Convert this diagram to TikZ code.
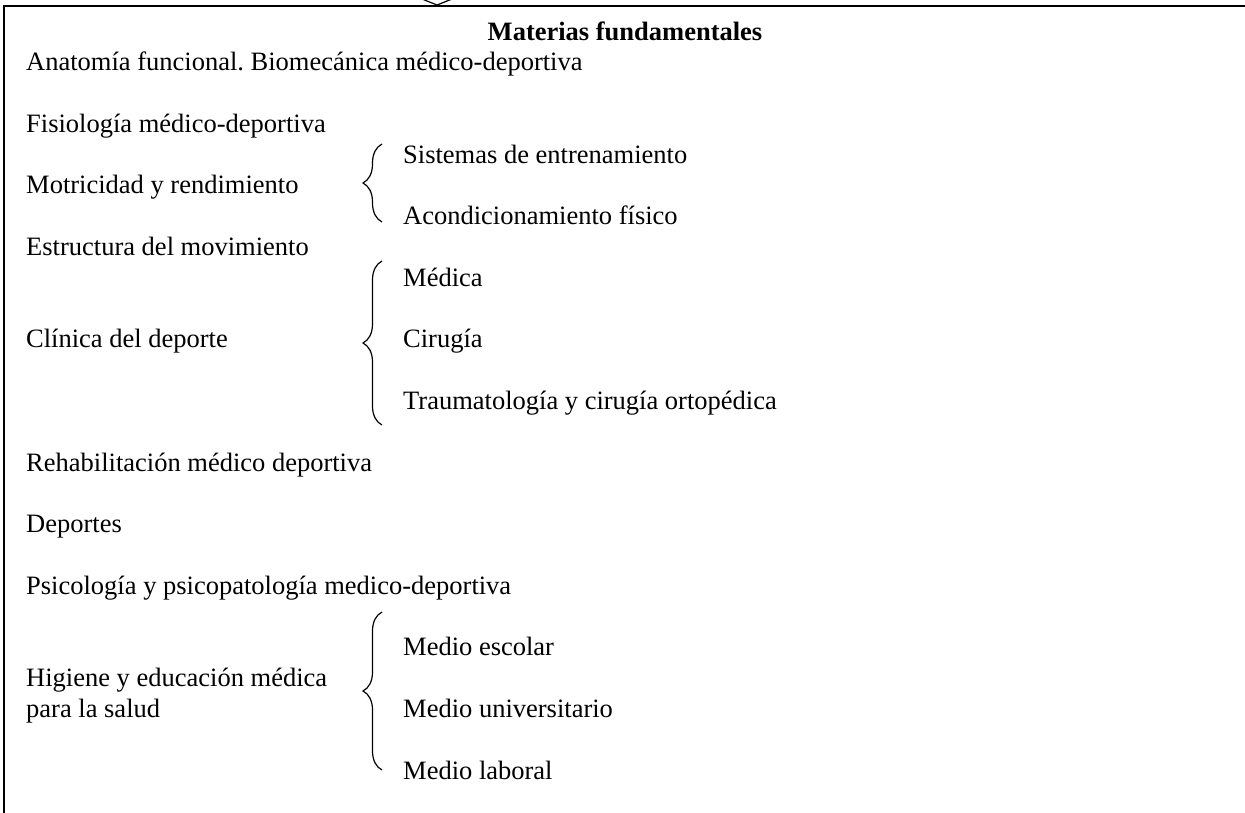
\documentclass[tikz,border=0pt]{standalone}
\usepackage{fontspec}
\setmainfont{Liberation Serif}
\usetikzlibrary{decorations.pathreplacing}
\frenchspacing

\tikzset{
  txt/.style={anchor=base west,inner sep=0pt,font=\fontsize{26.5}{30.8}\selectfont},
  llave/.style={line width=1.2pt,decorate,decoration={brace,amplitude=19pt}},
}

\begin{document}
\begin{tikzpicture}[x=1pt,y=1pt,yscale=-1,xscale=1]
\useasboundingbox (0,0) rectangle (1245,812);
\clip (0,0) rectangle (1245,812);

\draw [line width=2pt]  (4,830) -- (4,6) -- (1247,6) -- (1247,830) ;
\draw [line width=1.2pt]  (422,-1) -- (437,5) -- (452,-1) ;

\draw (625,40) node [txt,anchor=base,font=\fontsize{26.5}{30.8}\selectfont\bfseries] (title) {Materias fundamentales};
\draw (26,70.6) node [txt] (anat) {Anatomía funcional. Biomecánica médico-deportiva};
\draw (26,132.2) node [txt] (fisio) {Fisiología médico-deportiva};
\draw (26,193.8) node [txt] (motri) {Motricidad y rendimiento};
\draw (26,255.4) node [txt] (estr) {Estructura del movimiento};
\draw (26,347.8) node [txt] (clin) {Clínica del deporte};
\draw (26,471) node [txt] (rehab) {Rehabilitación médico deportiva};
\draw (26,532.6) node [txt] (dep) {Deportes};
\draw (26,594.2) node [txt] (psico) {Psicología y psicopatología medico-deportiva};
\draw (26,686.6) node [txt] (hig) {Higiene y educación médica};
\draw (26,717.4) node [txt] (salud) {para la salud};

\draw (403,163) node [txt] (sist) {Sistemas de entrenamiento};
\draw (403,224.6) node [txt] (acond) {Acondicionamiento físico};
\draw (403,286.2) node [txt] (medica) {Médica};
\draw (403,347.8) node [txt] (cirug) {Cirugía};
\draw (403,409.4) node [txt] (trauma) {Traumatología y cirugía ortopédica};
\draw (403,655.8) node [txt] (escolar) {Medio escolar};
\draw (403,717.4) node [txt] (univ) {Medio universitario};
\draw (403,779) node [txt] (laboral) {Medio laboral};

\draw [llave]  (382,222) -- (382,144) ;
\draw [llave]  (382,425) -- (382,261) ;
\draw [llave]  (382,770) -- (382,612) ;
\end{tikzpicture}
\end{document}
